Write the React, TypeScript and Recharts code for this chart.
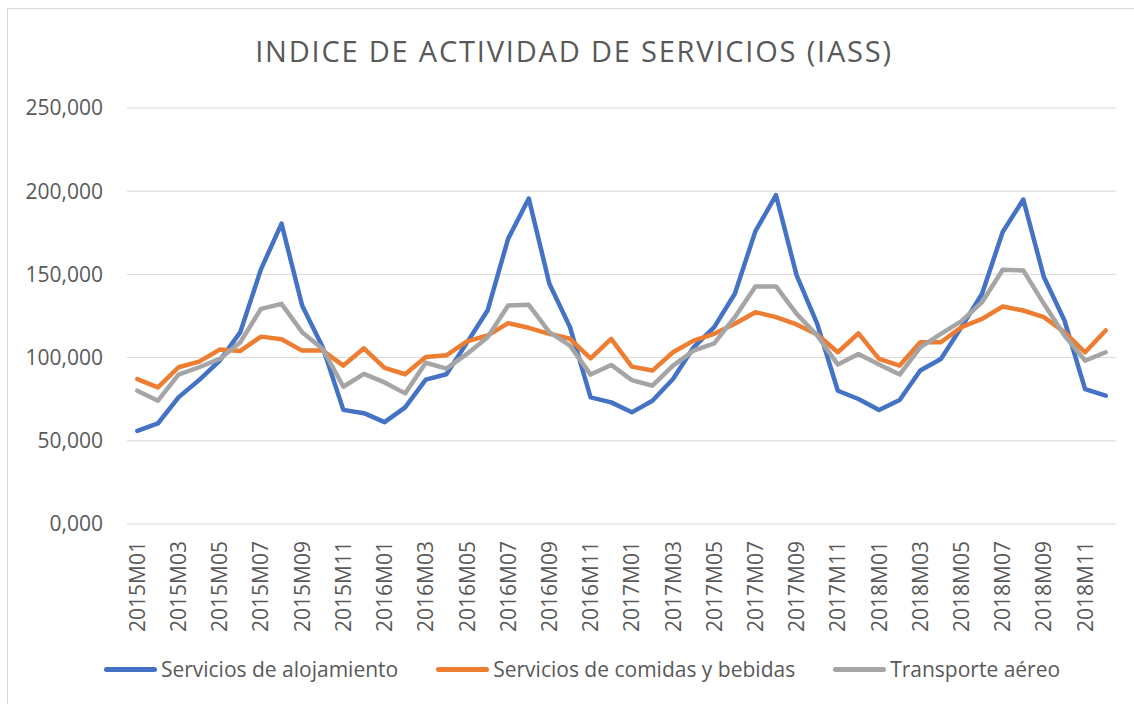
import React from 'react';
import { LineChart, Line, XAxis, YAxis, CartesianGrid, Legend } from 'recharts';

const months = [
  '2015M01', '2015M02', '2015M03', '2015M04', '2015M05', '2015M06', '2015M07', '2015M08', '2015M09', '2015M10', '2015M11', '2015M12',
  '2016M01', '2016M02', '2016M03', '2016M04', '2016M05', '2016M06', '2016M07', '2016M08', '2016M09', '2016M10', '2016M11', '2016M12',
  '2017M01', '2017M02', '2017M03', '2017M04', '2017M05', '2017M06', '2017M07', '2017M08', '2017M09', '2017M10', '2017M11', '2017M12',
  '2018M01', '2018M02', '2018M03', '2018M04', '2018M05', '2018M06', '2018M07', '2018M08', '2018M09', '2018M10', '2018M11', '2018M12'
];

const alojamiento = [
  56.0, 60.4, 76.1, 86.5, 98.2, 115.3, 153.0, 180.5, 131.3, 106.2, 68.6, 66.6,
  61.2, 70.1, 86.8, 90.0, 109.0, 128.3, 171.5, 195.6, 144.4, 118.3, 76.1, 73.1,
  67.1, 74.1, 87.1, 106.2, 118.3, 138.4, 176.0, 197.6, 149.4, 120.3, 80.1, 75.1,
  68.5, 74.5, 92.2, 99.2, 118.3, 138.4, 175.5, 195.0, 148.4, 122.3, 81.1, 77.1
];

const comidas = [
  87.1, 82.1, 94.2, 97.6, 104.8, 104.0, 112.6, 111.0, 104.2, 104.2, 95.2, 105.6,
  93.8, 90.0, 100.4, 101.4, 109.8, 113.3, 120.7, 117.9, 114.3, 111.3, 99.6, 111.3,
  94.6, 92.2, 103.2, 110.2, 114.3, 120.3, 127.3, 124.3, 119.9, 113.9, 103.2, 114.6,
  99.2, 95.2, 109.2, 109.2, 118.3, 123.3, 130.7, 128.3, 124.3, 115.3, 103.2, 116.3
];

const aereo = [
  80.1, 74.1, 89.8, 94.2, 99.2, 109.2, 129.3, 132.3, 115.3, 105.2, 82.5, 90.2,
  85.1, 78.5, 96.9, 93.4, 102.2, 112.2, 131.3, 131.7, 115.3, 107.2, 89.8, 95.6,
  86.5, 83.1, 95.2, 104.2, 108.6, 124.3, 142.8, 142.8, 126.3, 113.3, 95.8, 102.2,
  95.8, 89.8, 106.2, 114.3, 121.9, 133.3, 152.8, 152.4, 132.3, 113.3, 98.2, 103.2
];

const yTicks = [0, 50, 100, 150, 200, 250];

const series = [
  { key: 'alojamiento', name: 'Servicios de alojamiento', color: '#4472C4' },
  { key: 'comidas', name: 'Servicios de comidas y bebidas', color: '#ED7D31' },
  { key: 'aereo', name: 'Transporte aéreo', color: '#A5A5A5' }
];

const data = months.map((m, i) => ({
  month: m,
  alojamiento: alojamiento[i],
  comidas: comidas[i],
  aereo: aereo[i]
}));

const FONT = '"Open Sans", Lato, sans-serif';
const TEXT = '#595959';

const MonthTick = ({ x, y, payload }: any) => (
  <text
    transform={`translate(${x},${y}) rotate(-90)`}
    textAnchor="end"
    dy="0.36em"
    fill={TEXT}
    fontSize={21}
    fontFamily={FONT}
  >
    {payload.value}
  </text>
);

const LegendContent = () => (
  <div style={{ display: 'flex', justifyContent: 'center', gap: 38, fontFamily: FONT, fontSize: 21, color: TEXT }}>
    {series.map((s) => (
      <div key={s.key} style={{ display: 'flex', alignItems: 'center' }}>
        <span style={{ display: 'inline-block', width: 53, height: 5, borderRadius: 3, background: s.color, marginRight: 4 }} />
        <span>{s.name}</span>
      </div>
    ))}
  </div>
);

export default function App() {
  return (
    <div style={{ position: 'fixed', left: 0, top: 0, width: 1134, height: 704, overflow: 'hidden', background: '#fff' }}>
      <div style={{ position: 'absolute', left: 7, top: 8, width: 1300, height: 900, border: '1px solid #D9D9D9' }} />
      <div
        style={{
          position: 'absolute', left: 0, top: 36, width: 1148, textAlign: 'center',
          fontFamily: FONT, fontSize: 29, lineHeight: '29px', letterSpacing: 1.8, color: TEXT
        }}
      >
        INDICE DE ACTIVIDAD DE SERVICIOS (IASS)
      </div>
      <div style={{ position: 'absolute', left: 0, top: 0 }}>
        <LineChart width={1134} height={704} data={data} margin={{ top: 108, right: 18, left: 17, bottom: 32 }}>
          <CartesianGrid vertical={false} stroke="#D9D9D9" strokeWidth={1} />
          <XAxis
            dataKey="month"
            interval={1}
            axisLine={false}
            tickLine={false}
            tickSize={0}
            tickMargin={17}
            height={120}
            padding={{ left: 10.3, right: 10.3 }}
            tick={<MonthTick />}
          />
          <YAxis
            width={110}
            domain={[0, 250]}
            ticks={yTicks}
            axisLine={false}
            tickLine={false}
            tickSize={0}
            tickMargin={24}
            tick={{ fill: TEXT, fontSize: 21, fontFamily: FONT }}
            tickFormatter={(v: number) => v.toFixed(3).replace('.', ',')}
          />
          <Legend content={<LegendContent />} wrapperStyle={{ left: 0, top: 655, width: 1164 }} />
          {series.map((s) => (
            <Line
              key={s.key}
              type="linear"
              dataKey={s.key}
              name={s.name}
              stroke={s.color}
              strokeWidth={4.5}
              strokeLinejoin="round"
              strokeLinecap="round"
              dot={false}
              isAnimationActive={false}
            />
          ))}
        </LineChart>
      </div>
    </div>
  );
}
